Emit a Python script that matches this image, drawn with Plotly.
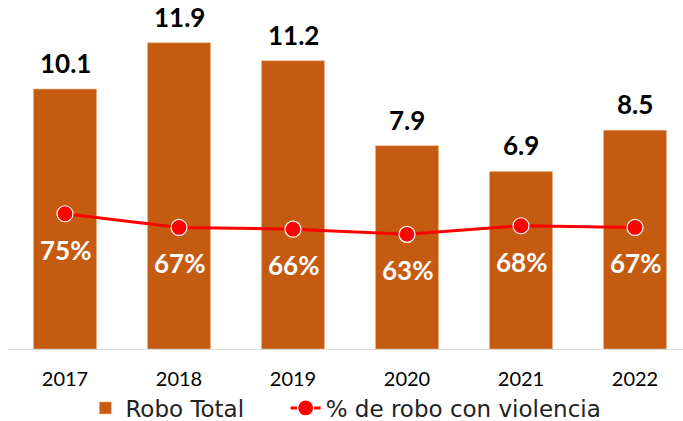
import plotly.graph_objects as go

# Data
years = ["2017", "2018", "2019", "2020", "2021", "2022"]
robo_total = [10.1, 11.9, 11.2, 7.9, 6.9, 8.5]
pct_violencia = [75, 67, 66, 63, 68, 67]

BAR_COLOR = "#C55A11"
LINE_COLOR = "#FF0000"
FONT = "Lato"
LEGEND_FONT = "DejaVu Sans"
NBSP = "\u00a0"

fig = go.Figure()

fig.add_trace(go.Bar(
    x=years, y=robo_total, name="Robo Total" + NBSP * 5,
    marker=dict(color=BAR_COLOR, line=dict(color="#F4B183", width=0.6)),
    yaxis="y",
))

fig.add_trace(go.Scatter(
    x=years, y=pct_violencia, name="% de robo con violencia",
    mode="lines+markers",
    line=dict(color=LINE_COLOR, width=3),
    marker=dict(size=16, color=LINE_COLOR, line=dict(color="white", width=1.2)),
    yaxis="y2",
))

fig.update_layout(
    width=683, height=421,
    margin=dict(l=8, r=0, t=0, b=72, autoexpand=False),
    paper_bgcolor="white", plot_bgcolor="white",
    bargap=0.447,
    showlegend=True,
    legend=dict(
        orientation="h",
        xref="container", x=0.125, xanchor="left",
        yref="container", y=0.031, yanchor="middle",
        font=dict(family=LEGEND_FONT, size=23, color="#222222"),
        traceorder="normal",
    ),
    xaxis=dict(
        type="category", range=[-0.5, 5.421],
        showline=True, linecolor="#D9D9D9", linewidth=1,
        ticks="outside", ticklen=12, tickcolor="rgba(0,0,0,0)",
        tickfont=dict(family=FONT, size=20, color="black"),
        showgrid=False,
    ),
    yaxis=dict(range=[0, 13.56], visible=False, showgrid=False),
    yaxis2=dict(range=[-3.8, 199.5], overlaying="y", visible=False, showgrid=False),
)

# bar value labels (category index used as x position)
for i, v in enumerate(robo_total):
    fig.add_annotation(
        x=i, y=v, xref="x", yref="y", text=f"<b>{v:.1f}</b>",
        showarrow=False, yanchor="bottom", yshift=8,
        font=dict(family=FONT, size=26, color="black"),
    )
# percentage labels under the markers
for i, p in enumerate(pct_violencia):
    fig.add_annotation(
        x=i, y=p, xref="x", yref="y2", text=f"<b>{p}%</b>",
        showarrow=False, yanchor="middle", yshift=-36,
        font=dict(family=FONT, size=26, color="white"),
    )

fig.write_html("out.html")
